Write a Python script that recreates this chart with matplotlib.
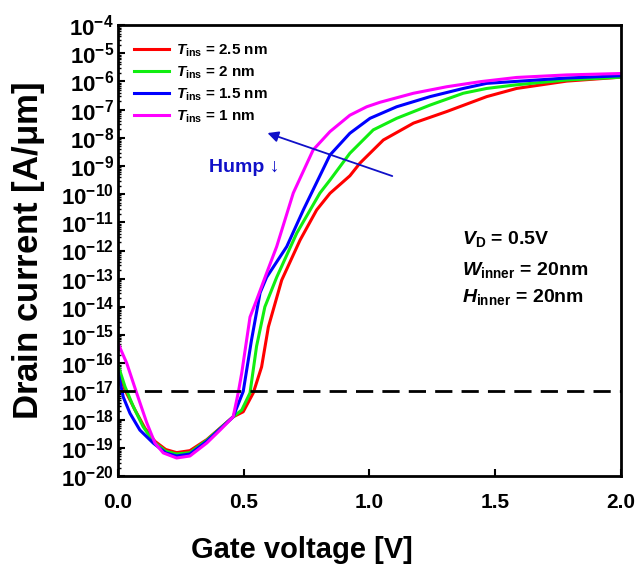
import numpy as np
import matplotlib
matplotlib.use("Agg")
import matplotlib.pyplot as plt
from matplotlib.ticker import (LogLocator, LogFormatterMathtext, NullFormatter,
                               MultipleLocator, FormatStrFormatter)

plt.rcParams["font.family"] = ["Liberation Sans", "DejaVu Sans"]
plt.rcParams["font.weight"] = "bold"
plt.rcParams["mathtext.fontset"] = "custom"
plt.rcParams["mathtext.rm"] = "Liberation Sans:bold"
plt.rcParams["mathtext.bf"] = "Liberation Sans:bold"
plt.rcParams["mathtext.it"] = "Liberation Sans:bold:italic"
plt.rcParams["mathtext.default"] = "rm"

# gate voltage (V) and log10 of drain current (A/um)
v_25 = [0.0, 0.028, 0.068, 0.107, 0.147, 0.19, 0.233, 0.286, 0.353, 0.406, 0.458, 0.498,
        0.538, 0.571, 0.598, 0.651, 0.724, 0.79, 0.843, 0.922, 0.962, 1.055, 1.175, 1.307,
        1.466, 1.585, 1.784, 2.0]
logi_25 = [-16.17, -16.95, -17.66, -18.3, -18.77, -19.06, -19.17, -19.1, -18.71, -18.3, -17.9,
           -17.72, -17.05, -16.13, -14.71, -13.05, -11.63, -10.56, -9.97, -9.35, -8.9, -8.08,
           -7.48, -7.07, -6.54, -6.25, -5.99, -5.85]

v_20 = [0.0, 0.028, 0.061, 0.1, 0.14, 0.19, 0.233, 0.286, 0.353, 0.406, 0.458, 0.492, 0.525,
        0.551, 0.584, 0.631, 0.711, 0.803, 0.843, 0.922, 1.015, 1.108, 1.241, 1.373, 1.466,
        1.585, 1.784, 2.0]
logi_20 = [-16.06, -16.83, -17.54, -18.25, -18.77, -19.12, -19.22, -19.17, -18.73, -18.31,
           -17.9, -17.66, -17.05, -15.4, -14.0, -12.95, -11.38, -9.96, -9.5, -8.55, -7.72,
           -7.31, -6.84, -6.42, -6.25, -6.12, -5.95, -5.85]

v_15 = [0.0, 0.021, 0.048, 0.087, 0.14, 0.19, 0.233, 0.286, 0.353, 0.406, 0.458, 0.498, 0.531,
        0.565, 0.591, 0.671, 0.737, 0.843, 0.922, 1.002, 1.108, 1.241, 1.373, 1.466, 1.784,
        2.0]
logi_15 = [-16.3, -17.2, -17.78, -18.37, -18.83, -19.18, -19.29, -19.22, -18.77, -18.33, -17.9,
           -17.0, -15.17, -13.5, -12.95, -11.86, -10.56, -8.61, -7.84, -7.31, -6.9, -6.54,
           -6.25, -6.07, -5.88, -5.8]

v_10 = [0.0, 0.035, 0.074, 0.114, 0.147, 0.18, 0.233, 0.286, 0.353, 0.406, 0.458, 0.478, 0.492,
        0.525, 0.551, 0.591, 0.631, 0.697, 0.776, 0.843, 0.922, 0.989, 1.042, 1.175, 1.307,
        1.44, 1.585, 1.784, 2.0]
logi_10 = [-15.29, -16.0, -17.05, -18.1, -18.83, -19.18, -19.36, -19.29, -18.83, -18.37, -17.9,
           -17.05, -16.35, -14.36, -13.76, -12.8, -11.86, -9.96, -8.43, -7.78, -7.2, -6.9,
           -6.74, -6.42, -6.19, -6.01, -5.86, -5.77, -5.72]

labels = [r"$\mathit{T}_{\mathrm{ins}}$ = 2.5 nm", r"$\mathit{T}_{\mathrm{ins}}$ = 2 nm",
          r"$\mathit{T}_{\mathrm{ins}}$ = 1.5 nm", r"$\mathit{T}_{\mathrm{ins}}$ = 1 nm"]
colors = ["#ff0000", "#11ee11", "#0000ff", "#ff00ff"]
i_ref = 1e-17

fig = plt.figure(figsize=(6.36, 5.74), dpi=100)
ax = fig.add_axes([0.1855, 0.1707, 0.7909, 0.7857])

for v, lg, lab, c in zip([v_25, v_20, v_15, v_10], [logi_25, logi_20, logi_15, logi_10],
                         labels, colors):
    ax.plot(v, 10.0 ** np.array(lg), color=c, lw=2.2, label=lab)

ax.axhline(i_ref, color="black", lw=2.0, dashes=(6.2, 3.3))

ax.set_yscale("log")
ax.set_xlim(0, 2.0)
ax.set_ylim(1e-20, 1e-4)
ax.yaxis.set_major_locator(LogLocator(base=10, numticks=30))
ax.yaxis.set_major_formatter(LogFormatterMathtext())
ax.yaxis.set_minor_locator(LogLocator(base=10, subs=np.arange(2, 10), numticks=30))
ax.yaxis.set_minor_formatter(NullFormatter())
ax.xaxis.set_major_locator(MultipleLocator(0.5))
ax.xaxis.set_major_formatter(FormatStrFormatter("%.1f"))

ax.tick_params(axis="x", which="major", direction="in", length=5, width=1.5,
               labelsize=15, pad=12)
ax.tick_params(axis="y", which="major", direction="in", length=5, width=1.5,
               labelsize=16, pad=3)
ax.tick_params(axis="y", which="minor", direction="in", length=2.5, width=1.0)
for s in ax.spines.values():
    s.set_linewidth(2.0)

ax.set_xlabel("Gate voltage [V]", fontsize=21, fontweight="bold", va="center")
ax.xaxis.set_label_coords(0.366, -0.164)
ax.set_ylabel(r"Drain current [A/$\mathrm{\mu}$m]", fontsize=25, fontweight="bold",
              va="center")
ax.yaxis.set_label_coords(-0.178, 0.5)

leg = ax.legend(loc="upper left", frameon=False, fontsize=11, handlelength=2.3,
                handletextpad=0.45, labelspacing=0.36, borderaxespad=0.0,
                bbox_to_anchor=(0.02, 0.975))

ax.annotate("", xy=(0.584, 10 ** -7.8), xytext=(1.101, 10 ** -9.39),
            arrowprops=dict(arrowstyle="-|>", color="#1010c8", lw=1.3, mutation_scale=16))
ax.text(0.5, 10 ** -9.04, "Hump \u2193", color="#1010c8", fontsize=14, fontweight="bold",
        ha="center", va="center", family=["Liberation Sans", "DejaVu Sans"])

ax.text(1.368, 10 ** -11.6, r"$\mathit{V}_{\mathrm{D}}$ = 0.5V", fontsize=14,
        fontweight="bold", va="center")
ax.text(1.368, 10 ** -12.68, r"$\mathit{W}_{\mathrm{inner}}$ = 20nm", fontsize=14,
        fontweight="bold", va="center")
ax.text(1.368, 10 ** -13.64, r"$\mathit{H}_{\mathrm{inner}}$ = 20nm", fontsize=14,
        fontweight="bold", va="center")

fig.savefig("out.png", dpi=100)
